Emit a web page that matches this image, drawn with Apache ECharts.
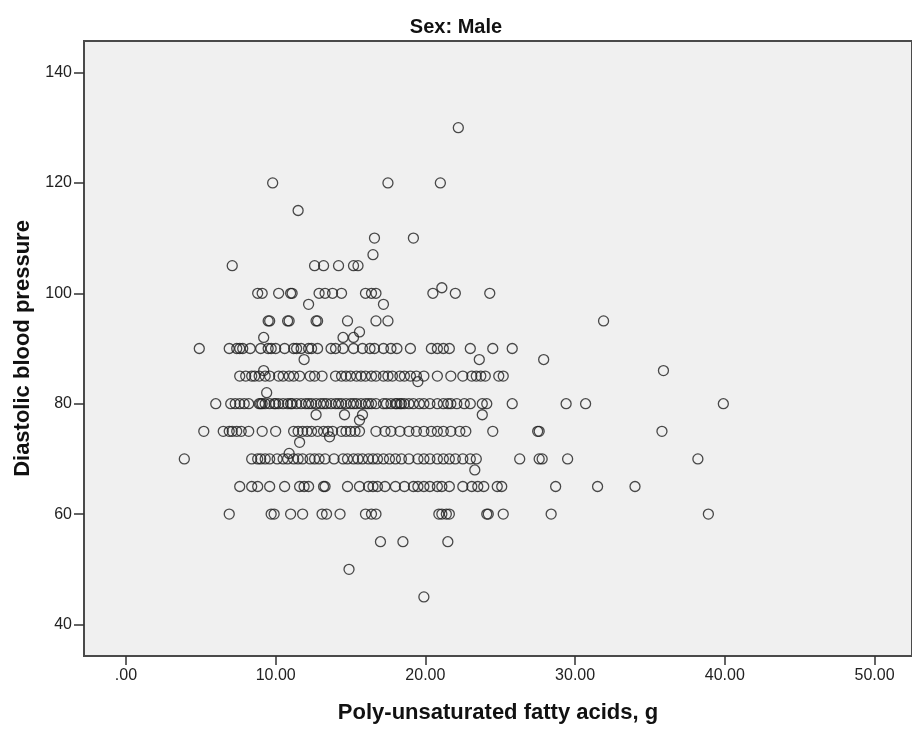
<!DOCTYPE html>
<html>
<head>
<meta charset="utf-8">
<script src="https://cdn.jsdelivr.net/npm/echarts@6/dist/echarts.min.js"></script>
<style>
html,body{margin:0;padding:0;background:#fff;}
#chart{width:912px;height:729px;}
</style>
</head>
<body>
<div id="chart"></div>
<script>
// Poly-unsaturated fatty acids (g) grouped by diastolic blood pressure level
const y130 = [22.2];
const y120 = [9.8, 17.5, 21.0];
const y115 = [11.5];
const y110 = [16.6, 19.2];
const y107 = [16.5];
const y105 = [7.1, 12.6, 13.2, 14.2, 15.2, 15.5];
const y101 = [21.1];
const y100 = [8.8, 9.1, 10.2, 11.0, 11.1, 12.9, 13.3, 13.8, 14.4, 16.0, 16.4, 16.7, 20.5, 22.0, 24.3];
const y98 = [12.2, 17.2];
const y95 = [9.5, 9.6, 10.8, 10.9, 12.7, 12.8, 14.8, 16.7, 17.5, 31.9];
const y93 = [15.6];
const y92 = [9.2, 14.5, 15.2];
const y90 = [4.9, 6.9, 7.4, 7.6, 7.8, 8.3, 9.0, 9.5, 9.7, 10.0, 10.6, 11.2, 11.4, 11.7, 12.2, 12.4, 12.8, 13.7, 14.0, 14.5, 15.2, 15.8, 16.3, 16.6, 17.2, 17.7, 18.1, 19.0, 20.4, 20.8, 21.2, 21.6, 23.0, 24.5, 25.8];
const y88 = [11.9, 23.6, 27.9];
const y86 = [9.2, 35.9];
const y85 = [7.6, 8.0, 8.4, 8.6, 8.9, 9.3, 9.6, 10.2, 10.5, 10.9, 11.2, 11.6, 12.3, 12.6, 13.1, 14.0, 14.4, 14.7, 15.0, 15.4, 15.7, 16.0, 16.4, 16.7, 17.2, 17.5, 17.8, 18.3, 18.6, 19.0, 19.4, 19.9, 20.8, 21.7, 22.5, 23.1, 23.4, 23.7, 24.0, 24.9, 25.2];
const y84 = [19.5];
const y82 = [9.4];
const y80 = [6.0, 7.0, 7.3, 7.6, 7.9, 8.2, 8.9, 9.0, 9.1, 9.3, 9.6, 9.9, 10.0, 10.2, 10.5, 10.8, 11.0, 11.1, 11.4, 11.7, 12.0, 12.2, 12.4, 12.7, 13.0, 13.2, 13.4, 13.7, 14.0, 14.2, 14.4, 14.7, 15.0, 15.2, 15.4, 15.7, 16.0, 16.2, 16.4, 16.7, 17.2, 17.4, 17.7, 18.0, 18.1, 18.3, 18.4, 18.6, 18.9, 19.2, 19.6, 19.9, 20.3, 20.8, 21.2, 21.5, 21.7, 22.1, 22.6, 23.0, 23.8, 24.1, 25.8, 29.4, 30.7, 39.9];
const y78 = [12.7, 14.6, 15.8, 23.8];
const y77 = [15.6];
const y75 = [5.2, 6.5, 6.9, 7.1, 7.4, 7.7, 8.2, 9.1, 10.0, 11.2, 11.5, 11.8, 12.1, 12.4, 12.8, 13.2, 13.5, 13.8, 14.4, 14.7, 15.0, 15.3, 15.6, 16.7, 17.3, 17.7, 18.3, 18.9, 19.4, 19.9, 20.4, 20.8, 21.2, 21.7, 22.3, 22.7, 24.5, 27.5, 27.6, 35.8];
const y74 = [13.6];
const y73 = [11.6];
const y71 = [10.9];
const y70 = [3.9, 8.4, 8.8, 9.0, 9.3, 9.6, 10.1, 10.5, 10.8, 11.2, 11.5, 11.8, 12.3, 12.6, 12.9, 13.3, 13.9, 14.5, 14.8, 15.2, 15.5, 15.8, 16.2, 16.5, 16.8, 17.2, 17.6, 18.0, 18.4, 18.9, 19.5, 19.9, 20.3, 20.8, 21.2, 21.6, 22.0, 22.5, 23.0, 23.4, 26.3, 27.6, 27.8, 29.5, 38.2];
const y68 = [23.3];
const y65 = [7.6, 8.4, 8.8, 9.6, 10.6, 11.6, 11.9, 12.2, 13.2, 13.3, 14.8, 15.6, 16.2, 16.5, 16.8, 17.3, 18.0, 18.6, 19.2, 19.5, 19.9, 20.3, 20.8, 21.1, 21.6, 22.5, 23.1, 23.5, 23.9, 24.8, 25.1, 28.7, 31.5, 34.0];
const y60 = [6.9, 9.7, 9.9, 11.0, 11.8, 13.1, 13.4, 14.3, 16.0, 16.4, 16.7, 20.9, 21.1, 21.4, 21.6, 24.1, 24.2, 25.2, 28.4, 38.9];
const y55 = [17.0, 18.5, 21.5];
const y50 = [14.9];
const y45 = [19.9];

const bpLevels = [130, 120, 115, 110, 107, 105, 101, 100, 98, 95, 93, 92, 90, 88, 86, 85, 84, 82, 80, 78, 77, 75, 74, 73, 71, 70, 68, 65, 60, 55, 50, 45];
const pufaRows = [y130, y120, y115, y110, y107, y105, y101, y100, y98, y95, y93, y92, y90, y88, y86, y85, y84, y82, y80, y78, y77, y75, y74, y73, y71, y70, y68, y65, y60, y55, y50, y45];

const xTicks = [0, 10, 20, 30, 40, 50];
const yTicks = [40, 60, 80, 100, 120, 140];

const points = [];
bpLevels.forEach((bp, i) => { pufaRows[i].forEach(x => points.push([x, bp])); });

const FONT = '"Liberation Sans", Arial, sans-serif';
const chart = echarts.init(document.getElementById('chart'), null, {renderer: 'canvas'});
chart.setOption({
  animation: false,
  backgroundColor: '#ffffff',
  title: {
    text: 'Sex: Male',
    left: 'center',
    top: 12,
    textStyle: {fontFamily: FONT, fontWeight: 'bold', fontSize: 20, color: '#111'}
  },
  grid: {
    left: 84, top: 41, right: -2, bottom: 72.5,
    show: true, backgroundColor: '#f0f0f0', borderColor: '#4a4a4a', borderWidth: 2
  },
  xAxis: {
    type: 'value', min: -2.8, max: 52.5,
    name: 'Poly-unsaturated fatty acids, g',
    nameLocation: 'middle', nameGap: 46,
    nameTextStyle: {fontFamily: FONT, fontWeight: 'bold', fontSize: 22, color: '#111'},
    splitLine: {show: false},
    axisLine: {show: false, onZero: false},
    axisTick: {show: true, length: 9, inside: false, customValues: xTicks, lineStyle: {color: '#333', width: 1.5}},
    axisLabel: {customValues: xTicks, margin: 12, fontFamily: FONT, fontSize: 16, color: '#222',
      formatter: v => v === 0 ? '.00' : v.toFixed(2)}
  },
  yAxis: {
    type: 'value', min: 34.3, max: 145.7,
    name: 'Diastolic blood pressure',
    nameLocation: 'middle', nameGap: 44,
    nameTextStyle: {fontFamily: FONT, fontWeight: 'bold', fontSize: 22, color: '#111'},
    splitLine: {show: false},
    axisLine: {show: false, onZero: false},
    axisTick: {show: true, length: 10, customValues: yTicks, lineStyle: {color: '#333', width: 1.5}},
    axisLabel: {customValues: yTicks, margin: 12, fontFamily: FONT, fontSize: 16, color: '#222'}
  },
  series: [{
    type: 'scatter',
    data: points,
    symbol: 'circle',
    symbolSize: 10,
    itemStyle: {color: 'rgba(0,0,0,0)', borderColor: '#1e1e1e', borderWidth: 1.3}
  }]
});
</script>
</body>
</html>
